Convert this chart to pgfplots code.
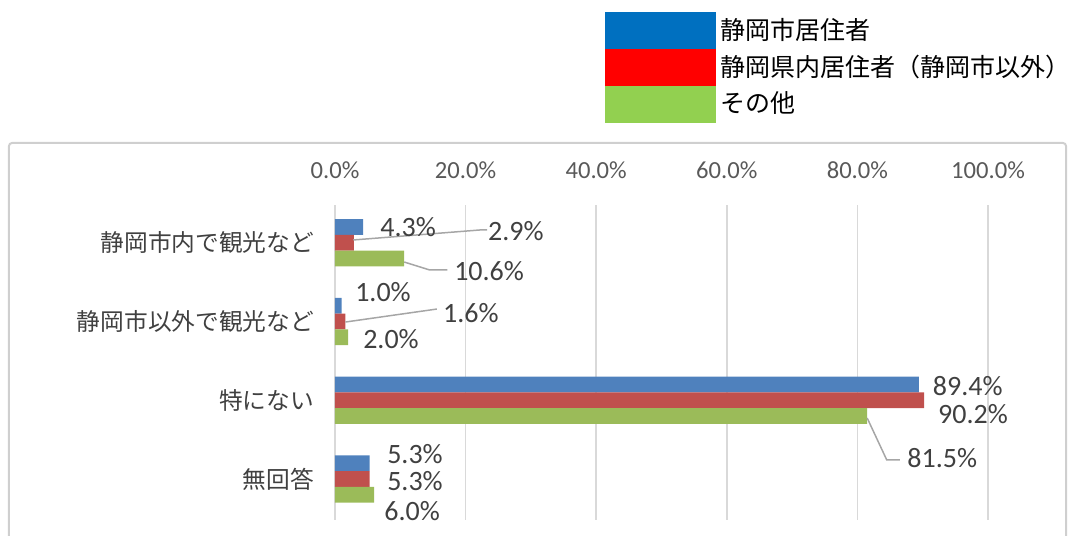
\documentclass[border=0pt]{standalone}
\usepackage{fontspec}
\setmainfont{Carlito}
\newfontfamily\cjk{Noto Sans CJK JP}
\usepackage{pgfplots}
\pgfplotsset{compat=1.18}
\definecolor{barblue}{HTML}{4F81BD}
\definecolor{barred}{HTML}{C0504D}
\definecolor{bargreen}{HTML}{9BBB59}
\definecolor{legblue}{HTML}{0070C0}
\definecolor{legred}{HTML}{FF0000}
\definecolor{leggreen}{HTML}{92D050}
\definecolor{gridgray}{HTML}{D9D9D9}
\definecolor{framegray}{HTML}{CFCFCF}
\definecolor{tickgray}{HTML}{595959}
\definecolor{labgray}{HTML}{404040}
\definecolor{leadgray}{HTML}{A6A6A6}
\begin{document}
\begin{tikzpicture}[
  dl/.style={font=\fontsize{14}{16}\selectfont, text=labgray, inner sep=0pt, anchor=center},
  ld/.style={leadgray, line width=0.75pt},
]
\begin{axis}[
  scale only axis,
  width=326.5pt, height=157.5pt,
  xmin=0, xmax=100,
  ymin=-0.48, ymax=3.52,
  y dir=reverse,
  clip=false,
  axis line style={draw=none},
  tick style={draw=none},
  xmajorgrids, grid style={gridgray, line width=0.8pt},
  xtick={0,20,40,60,80,100},
  xticklabels={0.0\%,20.0\%,40.0\%,60.0\%,80.0\%,100.0\%},
  xticklabel pos=upper,
  xticklabel style={font=\fontsize{12.3}{14}\selectfont, text=tickgray, yshift=9.5pt},
  ytick={0,1,2,3},
  yticklabels={静岡市内で観光など,静岡市以外で観光など,特にない,無回答},
  yticklabel style={font=\cjk\fontsize{11.85}{14}\selectfont, text=labgray, xshift=-7pt},
  legend style={at={(axis description cs:0.4135,1.6127)}, anchor=north west,
    draw=none, fill=none, inner sep=0pt, outer sep=0pt, row sep=0pt, column sep=2.5pt,
    font=\cjk\fontsize{12.5}{14}\selectfont, text=black,
    nodes={inner sep=0pt, outer sep=0pt}},
  legend cell align=left,
]
\addlegendimage{legend image code/.code={\fill[legblue] (0pt,-9pt) rectangle (55pt,9pt);}}
\addlegendentry{静岡市居住者}
\addlegendimage{legend image code/.code={\fill[legred] (0pt,-9pt) rectangle (55pt,9pt);}}
\addlegendentry{静岡県内居住者（静岡市以外）}
\addlegendimage{legend image code/.code={\fill[leggreen] (0pt,-9pt) rectangle (55pt,9pt);}}
\addlegendentry{その他}

\addplot[xbar, fill=barblue, draw=none, bar width=0.2, bar shift=0pt, forget plot]
  coordinates {(4.3,-0.2) (1.0,0.8) (89.4,1.8) (5.3,2.8)};
\addplot[xbar, fill=barred, draw=none, bar width=0.2, bar shift=0pt, forget plot]
  coordinates {(2.9,0) (1.6,1) (90.2,2) (5.3,3)};
\addplot[xbar, fill=bargreen, draw=none, bar width=0.2, bar shift=0pt, forget plot]
  coordinates {(10.6,0.2) (2.0,1.2) (81.5,2.2) (6.0,3.2)};

% leader lines
\draw[ld] (axis cs:2.8,-0.036) -- (axis cs:22.2,-0.163) -- (axis cs:23.3,-0.163);
\draw[ld] (axis cs:10.6,0.244) -- (axis cs:14.5,0.345) -- (axis cs:17.2,0.345);
\draw[ld] (axis cs:1.6,1.006) -- (axis cs:15.6,0.841);
\draw[ld] (axis cs:81.5,2.225) -- (axis cs:84.5,2.758) -- (axis cs:86.5,2.758);

% data labels
\node[dl] at (axis cs:11.2,-0.201) {4.3\%};
\node[dl] at (axis cs:27.7,-0.150) {2.9\%};
\node[dl] at (axis cs:23.6,0.364) {10.6\%};
\node[dl] at (axis cs:7.35,0.625) {1.0\%};
\node[dl] at (axis cs:20.8,0.891) {1.6\%};
\node[dl] at (axis cs:8.58,1.22) {2.0\%};
\node[dl] at (axis cs:96.9,1.818) {89.4\%};
\node[dl] at (axis cs:97.7,2.174) {90.2\%};
\node[dl] at (axis cs:93.0,2.733) {81.5\%};
\node[dl] at (axis cs:12.25,2.682) {5.3\%};
\node[dl] at (axis cs:12.25,3.025) {5.3\%};
\node[dl] at (axis cs:11.8,3.406) {6.0\%};
\end{axis}
\draw[framegray, line width=1pt, rounded corners=1.5pt] (-163pt,-14pt) rectangle (365.5pt,188.5pt);
\pgfresetboundingbox
\path[use as bounding box] (-167.5pt,-8pt) rectangle (368.5pt,260pt);
\end{tikzpicture}
\end{document}
